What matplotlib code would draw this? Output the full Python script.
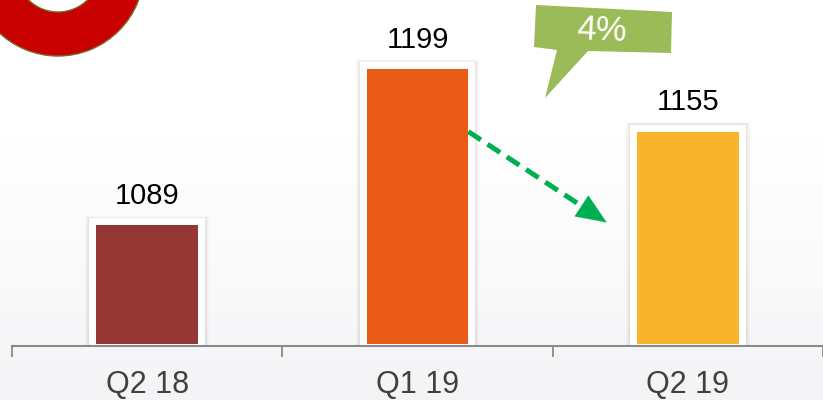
import numpy as np
import matplotlib
matplotlib.use("Agg")
import matplotlib.pyplot as plt
from matplotlib.patches import Rectangle, Annulus, Polygon

plt.rcParams["font.family"] = ["Liberation Sans", "DejaVu Sans"]

# quarterly values
quarters = ["Q2 18", "Q1 19", "Q2 19"]
values = [1089, 1199, 1155]
bar_colors = ["#953735", "#E95B17", "#F8B42C"]
change_label = "4%"

Y_MIN, Y_MAX = 1004, 1247.7
BAR_W = 0.376
BAR_FOOT = 1.5  # small white gap between bar and axis line

fig = plt.figure(figsize=(8.23, 4.0), dpi=100)

# faint background gradient
bg = fig.add_axes([0, 0, 1, 1], zorder=0)
grad = np.linspace(0, 1, 200).reshape(-1, 1)
bg.imshow(grad, aspect="auto", cmap=matplotlib.colors.LinearSegmentedColormap.from_list(
    "bg", ["#ffffff", "#ffffff", "#fafafb", "#f4f4f7"]), extent=[0, 1, 0, 1], origin="upper")
bg.axis("off")

ax = fig.add_axes([12 / 823, 54 / 400, 811 / 823, 346 / 400], zorder=1)
ax.patch.set_visible(False)
x = np.arange(len(quarters))

# white frame with soft shadow behind each bar
fx, fy = 7 / 271, 7 / 1.42
for xi, v in zip(x, values):
    for k, a in [(4, 0.04), (3, 0.05), (2, 0.06), (1, 0.08)]:
        ax.add_patch(Rectangle((xi - BAR_W / 2 - fx - k / 271, Y_MIN),
                               BAR_W + 2 * fx + 2 * k / 271, v - Y_MIN + fy + k / 2.5,
                               facecolor="#8a8a8a", edgecolor="none", alpha=a, zorder=1))
    ax.add_patch(Rectangle((xi - BAR_W / 2 - fx, Y_MIN), BAR_W + 2 * fx, v - Y_MIN + fy,
                           facecolor="white", edgecolor="none", zorder=2))

bars = ax.bar(x, np.array(values) - Y_MIN - BAR_FOOT, bottom=Y_MIN + BAR_FOOT,
              width=BAR_W, color=bar_colors, zorder=3)
for xi, v in zip(x, values):
    ax.annotate(f"{v}", (xi, v), xytext=(0, 15.5), textcoords="offset points",
                ha="center", va="baseline", fontsize=21, color="black")

# dashed trend arrow from Q1 19 down to Q2 19
x0, y0 = 1 + BAR_W / 2, values[2]
x1, y1 = 1.70, values[0] + 2
t = 0.92
ax.plot([x0, x0 + t * (x1 - x0)], [y0, y0 + t * (y1 - y0)], color="#00B050",
        lw=3.6, dashes=(3, 1.6), solid_capstyle="butt", dash_capstyle="butt", zorder=4)
ax.annotate("", xy=(x1, y1), xytext=(x0 + 0.85 * (x1 - x0), y0 + 0.85 * (y1 - y0)),
            arrowprops=dict(arrowstyle="-|>,head_length=1.2,head_width=0.5",
                            color="#00B050", lw=0.1, shrinkA=0, shrinkB=0,
                            mutation_scale=18), zorder=4)

ax.set_xlim(-0.5, 2.5)
ax.set_ylim(Y_MIN, Y_MAX)
ax.set_xticks(x)
ax.set_xticklabels(quarters)
ax.set_xticks(np.arange(-0.5, 3.0, 1.0), minor=True)
ax.tick_params(axis="x", which="major", length=0, pad=17, labelsize=22, labelcolor="#404040")
ax.tick_params(axis="x", which="minor", length=8, width=1.3, color="#8a8a8a", direction="out")
ax.set_yticks([])
for s in ["left", "right", "top"]:
    ax.spines[s].set_visible(False)
ax.spines["bottom"].set_color("#8a8a8a")
ax.spines["bottom"].set_linewidth(1.5)

# decorations in pixel coordinates
ov = fig.add_axes([0, 0, 1, 1], zorder=3)
ov.set_xlim(0, 823)
ov.set_ylim(400, 0)
ov.axis("off")
ov.add_patch(Annulus((58, -30), 86, 44, facecolor="#C80000", edgecolor="#7a6a30", lw=1))
ov.add_patch(Polygon([(536, 5), (672, 12), (671, 53), (588, 51), (545, 98), (557, 50), (534, 47)],
                     closed=True, facecolor="#9BBB59", edgecolor="none"))
ov.text(602, 31, change_label, ha="center", va="center", color="white",
        fontsize=25, rotation=-2.5)

fig.savefig("out.png", dpi=100)
